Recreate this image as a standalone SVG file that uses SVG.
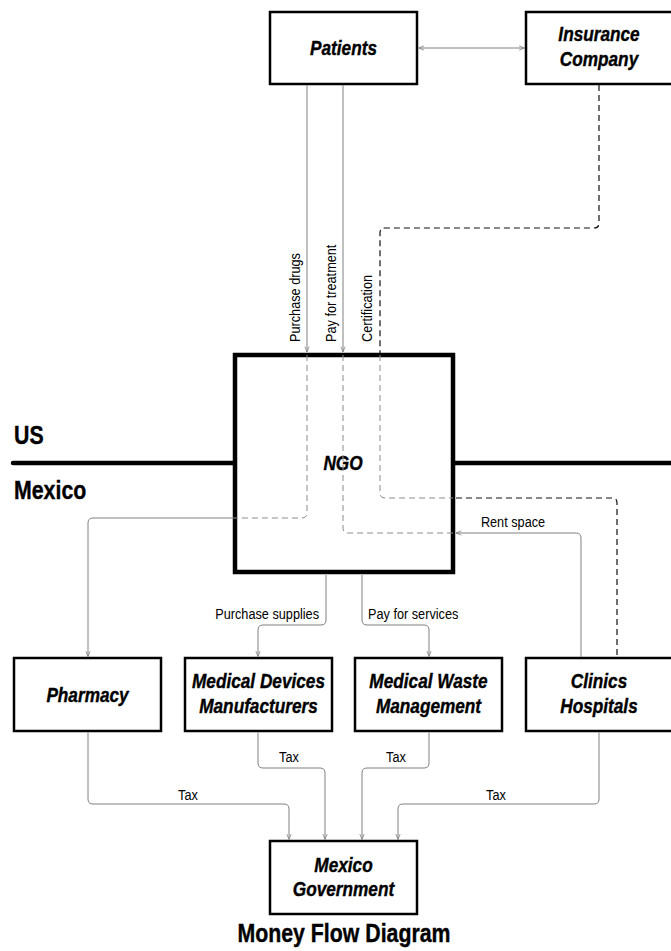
<svg xmlns="http://www.w3.org/2000/svg" width="671" height="951" viewBox="0 0 671 951">
<style>
  .box { fill: #ffffff; stroke: #000000; stroke-width: 2.5; }
  .ngo { fill: #ffffff; stroke: #000000; stroke-width: 4.5; }
  .lbl { font-family: "Liberation Sans", Arial, sans-serif; font-weight: bold; font-style: italic; font-size: 21px; fill: #000; stroke: #000; stroke-width: 0.4; text-anchor: middle; }
  .edge { fill: none; stroke: #808080; stroke-width: 1; }
  .inner { fill: none; stroke: #8c8c8c; stroke-width: 1; stroke-dasharray: 6 4; }
  .cert { fill: none; stroke: #111111; stroke-width: 1.2; stroke-dasharray: 6 4; }
  .elbl { font-family: "Liberation Sans", Arial, sans-serif; font-size: 15.5px; fill: #000; }
  .big { font-family: "Liberation Sans", Arial, sans-serif; font-weight: bold; font-size: 26px; fill: #000; stroke: #000; stroke-width: 0.4; }
  .border { stroke: #000; stroke-width: 4.5; stroke-linecap: round; }
</style>
<defs>
  <marker id="arr" viewBox="0 0 10 10" refX="10" refY="5" markerWidth="6" markerHeight="6" orient="auto-start-reverse" markerUnits="userSpaceOnUse">
    <path d="M1,1.5 L10,5 L1,8.5" fill="none" stroke="#808080" stroke-width="1.3"/>
  </marker>
</defs>
<rect width="671" height="951" fill="#ffffff"/>

<g id="border">
  <line class="border" x1="13" y1="463" x2="233" y2="463"/>
  <line class="border" x1="455" y1="463" x2="671" y2="463"/>
  <text class="big" transform="translate(14,444) scale(0.82,1)">US</text>
  <text class="big" transform="translate(14,499) scale(0.82,1)">Mexico</text>
</g>

<g id="ngo">
  <rect class="ngo" x="235" y="355" width="218" height="217"/>
  <text class="lbl" font-size="20" transform="translate(343,470) scale(0.82,1)">NGO</text>
</g>

<g id="patients">
  <rect class="box" x="270" y="12" width="147" height="72"/>
  <text class="lbl" transform="translate(343.5,55) scale(0.82,1)">Patients</text>
</g>
<g id="insurance">
  <rect class="box" x="526" y="12" width="147" height="72"/>
  <text class="lbl" transform="translate(599,41) scale(0.82,1)">Insurance</text>
  <text class="lbl" transform="translate(599,66) scale(0.82,1)">Company</text>
</g>
<g id="pharmacy">
  <rect class="box" x="14" y="658" width="147" height="73"/>
  <text class="lbl" transform="translate(87.5,702) scale(0.82,1)">Pharmacy</text>
</g>
<g id="meddev">
  <rect class="box" x="185" y="658" width="147" height="73"/>
  <text class="lbl" transform="translate(258.5,688) scale(0.82,1)">Medical Devices</text>
  <text class="lbl" transform="translate(258.5,713) scale(0.82,1)">Manufacturers</text>
</g>
<g id="medwaste">
  <rect class="box" x="355" y="658" width="147" height="73"/>
  <text class="lbl" transform="translate(428.5,688) scale(0.82,1)">Medical Waste</text>
  <text class="lbl" transform="translate(428.5,713) scale(0.82,1)">Management</text>
</g>
<g id="clinics">
  <rect class="box" x="526" y="658" width="147" height="73"/>
  <text class="lbl" transform="translate(599,688) scale(0.82,1)">Clinics</text>
  <text class="lbl" transform="translate(599,713) scale(0.82,1)">Hospitals</text>
</g>
<g id="government">
  <rect class="box" x="270" y="841" width="147" height="73"/>
  <text class="lbl" transform="translate(343.5,872) scale(0.82,1)">Mexico</text>
  <text class="lbl" transform="translate(343.5,896) scale(0.82,1)">Government</text>
</g>

<g id="connectors">
  <!-- Patients <-> Insurance -->
  <line class="edge" x1="418.5" y1="48" x2="524.5" y2="48" marker-start="url(#arr)" marker-end="url(#arr)"/>
  <!-- Purchase drugs -->
  <path class="edge" d="M307,85 V352" marker-end="url(#arr)"/>
  <path class="inner" d="M307,355 V513 Q307,518 302,518 H233"/>
  <path class="edge" d="M233,518 H93 Q88,518 88,523 V656.5" marker-end="url(#arr)"/>
  <text class="elbl" transform="translate(300,342) rotate(-90) scale(0.82,1)">Purchase drugs</text>
  <!-- Pay for treatment -->
  <path class="edge" d="M343,85 V352" marker-end="url(#arr)"/>
  <path class="inner" d="M343,355 V528 Q343,533 348,533 H453"/>
  <text class="elbl" transform="translate(336,342) rotate(-90) scale(0.82,1)">Pay for treatment</text>
  <!-- Certification -->
  <path class="cert" d="M599,85 V223 Q599,228 594,228 H385 Q380,228 380,233 V353"/>
  <path class="inner" d="M380,355 V493 Q380,498 385,498 H453"/>
  <path class="cert" d="M456,498 H612 Q617,498 617,503 V657"/>
  <text class="elbl" transform="translate(372,342) rotate(-90) scale(0.82,1)">Certification</text>
  <!-- Rent space -->
  <path class="edge" d="M581,657 V538 Q581,533 576,533 H456" marker-end="url(#arr)"/>
  <text class="elbl" text-anchor="middle" transform="translate(513,527) scale(0.82,1)">Rent space</text>
  <!-- Purchase supplies -->
  <path class="edge" d="M326,575 V620 Q326,625 321,625 H263 Q258,625 258,630 V656.5" marker-end="url(#arr)"/>
  <text class="elbl" text-anchor="end" transform="translate(319,619) scale(0.82,1)">Purchase supplies</text>
  <!-- Pay for services -->
  <path class="edge" d="M362,575 V620 Q362,625 367,625 H424 Q429,625 429,630 V656.5" marker-end="url(#arr)"/>
  <text class="elbl" transform="translate(368,619) scale(0.82,1)">Pay for services</text>
  <!-- Taxes -->
  <path class="edge" d="M88,732.5 V799 Q88,804 93,804 H284 Q289,804 289,809 V839.5" marker-end="url(#arr)"/>
  <text class="elbl" text-anchor="middle" transform="translate(188,800) scale(0.82,1)">Tax</text>
  <path class="edge" d="M258,732.5 V763 Q258,768 263,768 H320 Q325,768 325,773 V839.5" marker-end="url(#arr)"/>
  <text class="elbl" text-anchor="middle" transform="translate(289,762) scale(0.82,1)">Tax</text>
  <path class="edge" d="M429,732.5 V763 Q429,768 424,768 H367 Q362,768 362,773 V839.5" marker-end="url(#arr)"/>
  <text class="elbl" text-anchor="middle" transform="translate(396,762) scale(0.82,1)">Tax</text>
  <path class="edge" d="M599,732.5 V799 Q599,804 594,804 H403 Q398,804 398,809 V839.5" marker-end="url(#arr)"/>
  <text class="elbl" text-anchor="middle" transform="translate(496,800) scale(0.82,1)">Tax</text>
</g>

<g id="title">
  <text class="big" text-anchor="middle" transform="translate(344,942) scale(0.82,1)">Money Flow Diagram</text>
</g>
</svg>
